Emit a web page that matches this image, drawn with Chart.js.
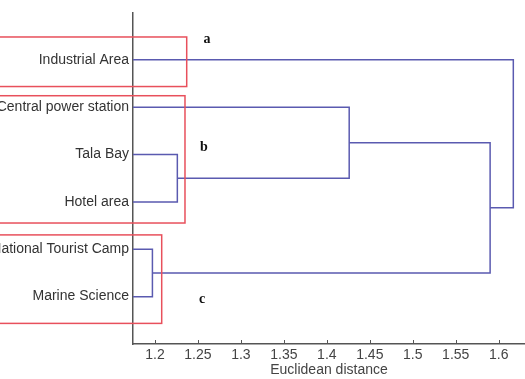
<!DOCTYPE html>
<html>
<head>
<meta charset="utf-8">
<script src="https://cdn.jsdelivr.net/npm/chart.js@4/dist/chart.umd.min.js"></script>
<style>
  html, body { margin: 0; padding: 0; background: #fff; }
  #wrap { width: 525px; height: 379px; position: relative; }
</style>
</head>
<body>
<div id="wrap"><canvas id="dendro"></canvas></div>
<script>
// leaves, top to bottom
const leaves = ['Industrial Area', 'Central power station', 'Tala Bay', 'Hotel area', 'National Tourist Camp', 'Marine Science'];
// merges: node ids 0-5 are leaves, merge i gets id 6+i
const mergeLeft = [2, 4, 1, 8, 0];
const mergeRight = [3, 5, 6, 7, 9];
const mergeHeight = [1.226, 1.197, 1.426, 1.590, 1.617];
const xTicks = [1.2, 1.25, 1.3, 1.35, 1.4, 1.45, 1.5, 1.55, 1.6];
const groupLetters = ['a', 'b', 'c'];

const X_MIN = 1.1744, X_MAX = 1.6306;
const LINE = '#5a5ab0';
const RED = '#e8505c';

// group boxes and letters, in axis units
const boxes = [
  { right: 1.2369, top: 0.519, bottom: 1.565 },
  { right: 1.2349, top: 1.759, bottom: 4.446 },
  { right: 1.2078, top: 4.697, bottom: 6.565 }
];
const letterPos = [
  { x: 1.2605, y: 0.58 },
  { x: 1.2570, y: 2.84 },
  { x: 1.2547, y: 6.06 }
];

// build node positions
const nodeY = leaves.map((_, i) => i + 1);
const nodeH = leaves.map(() => X_MIN);
const datasets = [];
mergeHeight.forEach((h, i) => {
  const l = mergeLeft[i], r = mergeRight[i];
  datasets.push({
    data: [
      { x: nodeH[l], y: nodeY[l] },
      { x: h, y: nodeY[l] },
      { x: h, y: nodeY[r] },
      { x: nodeH[r], y: nodeY[r] }
    ],
    showLine: true,
    borderColor: LINE,
    borderWidth: 1.5,
    pointRadius: 0,
    tension: 0,
    fill: false
  });
  nodeY.push((nodeY[l] + nodeY[r]) / 2);
  nodeH.push(h);
});

const extras = {
  id: 'extras',
  afterDraw(chart) {
    const { ctx, scales: { x, y } } = chart;
    ctx.save();
    // inward ticks on x axis
    ctx.strokeStyle = '#555';
    ctx.lineWidth = 1;
    xTicks.forEach(v => {
      const px = Math.round(x.getPixelForValue(v)) + 0.5;
      ctx.beginPath();
      ctx.moveTo(px, y.bottom);
      ctx.lineTo(px, y.bottom - 4);
      ctx.stroke();
    });
    // red group boxes
    ctx.strokeStyle = RED;
    ctx.lineWidth = 1.5;
    boxes.forEach(b => {
      const x1 = -5, x2 = x.getPixelForValue(b.right);
      const y1 = y.getPixelForValue(b.top), y2 = y.getPixelForValue(b.bottom);
      ctx.strokeRect(x1, y1, x2 - x1, y2 - y1);
    });
    // group letters
    ctx.fillStyle = '#111';
    ctx.font = 'bold 14px "Liberation Serif", "DejaVu Serif", serif';
    ctx.textAlign = 'center';
    ctx.textBaseline = 'middle';
    groupLetters.forEach((t, i) => {
      ctx.fillText(t, x.getPixelForValue(letterPos[i].x), y.getPixelForValue(letterPos[i].y));
    });
    ctx.restore();
  }
};

const labelFont = { family: '"Liberation Sans", Arial, sans-serif', size: 14 };

new Chart(document.getElementById('dendro'), {
  type: 'scatter',
  data: { datasets },
  plugins: [extras],
  options: {
    responsive: true,
    maintainAspectRatio: false,
    animation: false,
    layout: { padding: { top: 10, right: 0, bottom: 0, left: 0 } },
    plugins: {
      legend: { display: false },
      tooltip: { enabled: false }
    },
    scales: {
      x: {
        type: 'linear',
        min: X_MIN,
        max: X_MAX,
        grid: { display: false, tickLength: 0 },
        border: { display: true, color: '#555', width: 1.5 },
        afterBuildTicks: scale => { scale.ticks = xTicks.map(v => ({ value: v })); },
        afterFit: scale => { scale.height = 35; },
        ticks: {
          color: '#444',
          font: labelFont,
          padding: 3,
          maxRotation: 0,
          autoSkip: false,
          callback: v => String(+Number(v).toFixed(2))
        },
        title: {
          display: true,
          text: 'Euclidean distance',
          color: '#444',
          font: labelFont,
          padding: { top: 0, bottom: 0 }
        }
      },
      y: {
        type: 'linear',
        min: 0,
        max: 7,
        reverse: true,
        grid: { display: false, tickLength: 0 },
        border: { display: true, color: '#555', width: 1.5 },
        afterBuildTicks: scale => { scale.ticks = leaves.map((_, i) => ({ value: i + 1 })); },
        afterFit: scale => { scale.width = 133; },
        ticks: {
          color: '#333',
          font: labelFont,
          padding: 4,
          autoSkip: false,
          callback: v => leaves[v - 1] || ''
        }
      }
    }
  }
});
</script>
</body>
</html>
